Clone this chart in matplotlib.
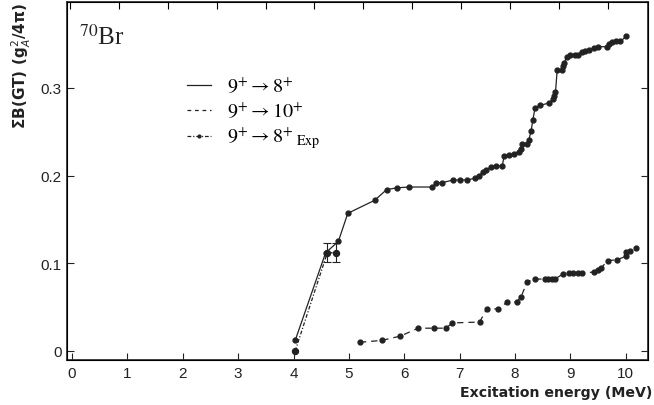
import numpy as np
import matplotlib
matplotlib.use("Agg")
import matplotlib.pyplot as plt
from matplotlib.lines import Line2D

plt.rcParams['font.family'] = ['Liberation Sans', 'DejaVu Sans']
plt.rcParams['mathtext.fontset'] = 'stix'

# 9+ -> 8+ (theory, solid)
th98_x = [4.03, 4.58, 4.81, 4.98, 5.47, 5.68, 5.86, 6.08, 6.50, 6.58, 6.69, 6.88, 7.00,
          7.14, 7.27, 7.35, 7.42, 7.47, 7.56, 7.65, 7.77, 7.80, 7.89, 7.98, 8.07, 8.10,
          8.13, 8.21, 8.25, 8.29, 8.32, 8.36, 8.45, 8.62, 8.68, 8.70, 8.73, 8.76, 8.84,
          8.87, 8.89, 8.93, 9.00, 9.08, 9.13, 9.20, 9.27, 9.34, 9.42, 9.50, 9.66, 9.70,
          9.75, 9.83, 9.90, 10.01]
th98_y = [0.012, 0.112, 0.125, 0.157, 0.172, 0.184, 0.186, 0.187, 0.187, 0.192, 0.192,
          0.195, 0.195, 0.195, 0.197, 0.200, 0.204, 0.206, 0.210, 0.211, 0.211, 0.222,
          0.223, 0.225, 0.227, 0.230, 0.236, 0.236, 0.241, 0.251, 0.263, 0.277, 0.280,
          0.283, 0.287, 0.291, 0.295, 0.320, 0.320, 0.325, 0.329, 0.335, 0.337, 0.338,
          0.338, 0.341, 0.342, 0.343, 0.345, 0.347, 0.347, 0.350, 0.352, 0.353, 0.353,
          0.359]

# 9+ -> 10+ (theory, dashed)
th910_x = [5.20, 5.59, 5.93, 6.25, 6.54, 6.75, 6.87, 7.36, 7.49, 7.70, 7.86, 8.03, 8.11,
           8.22, 8.36, 8.54, 8.60, 8.66, 8.72, 8.87, 8.98, 9.04, 9.13, 9.21, 9.42, 9.50,
           9.56, 9.67, 9.84, 10.00, 10.01, 10.08, 10.18]
th910_y = [0.010, 0.012, 0.017, 0.026, 0.026, 0.026, 0.032, 0.033, 0.048, 0.048, 0.056,
           0.056, 0.062, 0.079, 0.082, 0.082, 0.082, 0.082, 0.082, 0.088, 0.089, 0.089,
           0.089, 0.089, 0.090, 0.092, 0.095, 0.103, 0.104, 0.108, 0.113, 0.114, 0.117]

# 9+ -> 8+ experiment
exp_x = [4.03, 4.61, 4.77]
exp_y = [0.0, 0.112, 0.112]
exp_err = [0.0, 0.011, 0.011]

fig = plt.figure(figsize=(6.54, 4.06), dpi=100)
ax = fig.add_axes([0.1024, 0.1108, 0.8884, 0.8818])

dash = (0, (5, 4))
dashdot = (0, (3, 1.5, 1, 1.5))

ax.plot(th98_x, th98_y, color='#222222', lw=0.9, marker='o', ms=3.5, mfc='#222222', mec='#222222')
ax.plot(th910_x, th910_y, color='#222222', lw=0.9, ls=dash, marker='o', ms=3.5, mfc='#222222', mec='#222222')
ax.plot(exp_x, exp_y, color='#222222', lw=0.9, ls=dashdot, marker='o', ms=4.3, mfc='#222222', mec='#222222')
ax.errorbar(exp_x[1:], exp_y[1:], yerr=exp_err[1:], fmt='none', ecolor='#222222', elinewidth=0.8, capsize=3, capthick=0.8)

ax.set_xlim(-0.09, 10.40)
ax.set_ylim(-0.0103, 0.398)
ax.set_xticks(range(0, 11))
ax.set_yticks([0, 0.1, 0.2, 0.3])
ax.set_yticklabels(['0', '0.1', '0.2', '0.3'])
ax.tick_params(direction='in', length=5, width=0.8, labelsize=11, colors='#222222',
               right=True, top=False, pad=4)
for s in ax.spines.values():
    s.set_linewidth(1.3)
    s.set_color('#333333')

# top axis ticks on a different spacing
ax_top = ax.twiny()
ax_top.set_xlim(ax.get_xlim())
ax_top.set_xticks(np.arange(-0.036, 10.4, 0.883))
ax_top.tick_params(direction='in', length=5, width=0.8, labeltop=False)

ax.set_ylabel('ΣB(GT) (g$^{2}_{A}$/4π)', fontweight='bold', fontsize=11, loc='top',
              math_fontfamily='dejavusans', family='DejaVu Sans', color='#222222', labelpad=5)
fig.text(0.997, 0.033, 'Excitation energy (MeV)', ha='right', va='center', fontsize=10.2,
         fontweight='bold', family='DejaVu Sans', color='#222222')

ax.text(0.02, 0.905, r'$^{70}$Br', transform=ax.transAxes, fontsize=18, family='Liberation Serif',
        color='#222222', va='center')

handles = [Line2D([], [], color='#222222', lw=0.9),
           Line2D([], [], color='#222222', lw=0.9, ls=(0, (3, 3))),
           Line2D([], [], color='#222222', lw=0.9, ls=dashdot, marker='o', ms=2, markevery=[1])]
handles[2].set_data([0, 1, 2], [0, 0, 0])
labels = [r'$9^{+}\rightarrow 8^{+}$', r'$9^{+}\rightarrow 10^{+}$',
          r'$9^{+}\rightarrow 8^{+}\,{}_{\mathrm{Exp}}$']
leg = ax.legend(handles, labels, loc='upper left', bbox_to_anchor=(0.175, 0.845), frameon=False,
                fontsize=14.5, handlelength=1.2, handletextpad=0.8, labelspacing=0.2)

fig.savefig('out.png', dpi=100)
